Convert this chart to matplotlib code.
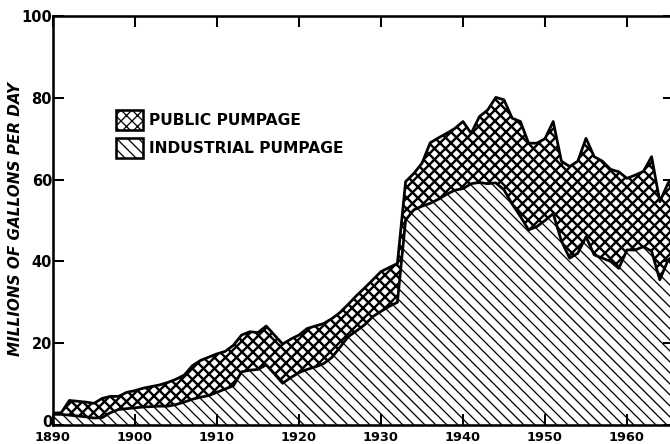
import matplotlib
matplotlib.use("Agg")
import matplotlib.pyplot as plt
import matplotlib.transforms as mtransforms
from matplotlib.patches import Patch

years = list(range(1890, 1967))

total_pumpage = [
    2.9, 3.0, 6.0, 5.8, 5.6, 5.3, 6.5, 7.0, 7.0, 8.0,      # 1890-1899
    8.4, 9.0, 9.4, 9.8, 10.4, 11.2, 12.2, 14.5, 15.8, 16.6,  # 1900-1909
    17.4, 18.0, 19.5, 22.0, 22.8, 22.6, 24.2, 22.0, 19.8, 21.0,  # 1910-1919
    22.0, 23.6, 24.2, 24.8, 26.0, 27.5, 29.5, 31.6, 33.5, 35.5,  # 1920-1929
    37.5, 38.5, 39.5, 59.5, 61.5, 64.0, 69.0, 70.2, 71.3, 72.5,  # 1930-1939
    74.2, 71.3, 75.4, 77.0, 80.1, 79.5, 75.0, 74.2, 68.9, 68.9,  # 1940-1949
    70.0, 74.2, 64.5, 63.2, 64.5, 70.1, 65.6, 64.5, 62.5, 61.9,  # 1950-1959
    60.3, 61.1, 62.0, 65.6, 54.6, 59.1, 61.5,                    # 1960-1966
]

industrial_pumpage = [
    2.6, 2.6, 2.4, 2.2, 2.0, 1.7, 1.8, 3.0, 3.8, 4.0,
    4.2, 4.4, 4.5, 4.6, 4.6, 5.0, 5.6, 6.3, 6.8, 7.2,
    8.0, 8.8, 9.6, 13.0, 13.4, 13.6, 14.7, 12.5, 10.2, 11.6,
    12.8, 13.6, 14.2, 15.0, 16.5, 19.0, 21.6, 23.0, 24.5, 26.5,
    27.8, 29.0, 30.0, 50.1, 52.6, 53.5, 54.2, 55.2, 56.4, 57.4,
    57.8, 59.0, 59.3, 59.0, 59.2, 57.5, 54.0, 51.0, 47.7, 48.5,
    50.0, 51.7, 45.0, 40.8, 42.0, 46.0, 41.6, 40.8, 40.0, 38.3,
    42.8, 42.8, 43.6, 42.5, 35.5, 40.3, 42.0,
]

x_ticks = [1890, 1900, 1910, 1920, 1930, 1940, 1950, 1960]
y_ticks = [0, 20, 40, 60, 80, 100]
series_labels = ["PUBLIC PUMPAGE", "INDUSTRIAL PUMPAGE"]
y_label = "MILLIONS OF GALLONS PER DAY"

DPI = 132
fig = plt.figure(figsize=(670 / DPI, 444 / DPI), dpi=DPI)
px_per_year = 8.2
x_right = 1965.7
ax_w_px = (x_right - 1890) * px_per_year
ax = fig.add_axes([53 / 670, 19 / 444, ax_w_px / 670, 409 / 444])

plt.rcParams['font.family'] = ['DejaVu Sans']

HATCH_IND = "\\\\\\\\"
HATCH_PUB = "xxxx"
LW_IND = 0.7
LW_PUB = 1.3

# industrial (diagonal hatch)
plt.rcParams['hatch.linewidth'] = LW_IND
ind = ax.fill_between(years, 0, industrial_pumpage, facecolor="white",
                      edgecolor="black", hatch=HATCH_IND, linewidth=0, zorder=1)
if hasattr(ind, "set_hatch_linewidth"):
    ind.set_hatch_linewidth(LW_IND)

# public (cross hatch)
plt.rcParams['hatch.linewidth'] = LW_PUB
pub = ax.fill_between(years, industrial_pumpage, total_pumpage, facecolor="white",
                      edgecolor="black", hatch=HATCH_PUB, linewidth=0, zorder=1)
if hasattr(pub, "set_hatch_linewidth"):
    pub.set_hatch_linewidth(LW_PUB)

ax.plot(years, total_pumpage, color="black", lw=1.5, zorder=3)
ax.plot(years, industrial_pumpage, color="black", lw=1.5, zorder=3)

ax.set_xlim(1890, x_right)
ax.set_ylim(0, 100)
ax.set_xticks(x_ticks)
ax.set_yticks(y_ticks)
ax.set_xticklabels([str(t) for t in x_ticks], fontsize=7, fontweight="bold")
ax.set_yticklabels([str(t) for t in y_ticks], fontsize=8, fontweight="bold")
ax.tick_params(direction="in", length=6, width=1.1, top=True, right=True,
               colors="black")
ax.tick_params(axis="x", pad=3.5)
ax.tick_params(axis="y", pad=0.5)
for s in ax.spines.values():
    s.set_linewidth(1.4)

# lift the "0" label a little so it clears the year labels, as in the reference
zero_lbl = ax.get_yticklabels()[0]
zero_lbl.set_transform(zero_lbl.get_transform() +
                       mtransforms.ScaledTranslation(0, 4 / DPI, fig.dpi_scale_trans))

ax.set_ylabel(y_label, fontsize=8.3, fontweight="bold", fontstyle="italic")
ax.yaxis.set_label_coords(-0.048, 0.504)

plt.rcParams['hatch.linewidth'] = LW_PUB
h_pub = Patch(facecolor="white", edgecolor="black", hatch=HATCH_PUB, linewidth=1.4)
if hasattr(h_pub, "set_hatch_linewidth"):
    h_pub.set_hatch_linewidth(LW_PUB)
plt.rcParams['hatch.linewidth'] = LW_IND
h_ind = Patch(facecolor="white", edgecolor="black", hatch=HATCH_IND, linewidth=1.4)
if hasattr(h_ind, "set_hatch_linewidth"):
    h_ind.set_hatch_linewidth(LW_IND)
fs_leg = 8.45
fs_px = fs_leg * DPI / 72
leg = ax.legend([h_pub, h_ind], series_labels, loc="upper left",
                bbox_to_anchor=((116 - 53) / ax_w_px, (425 - 110) / 409),
                frameon=False, borderpad=0, borderaxespad=0,
                handlelength=27 / fs_px, handleheight=25 / fs_px,
                handletextpad=6 / fs_px, labelspacing=8 / fs_px,
                prop={"weight": "bold", "size": fs_leg})

fig.savefig("out.png", dpi=DPI)
